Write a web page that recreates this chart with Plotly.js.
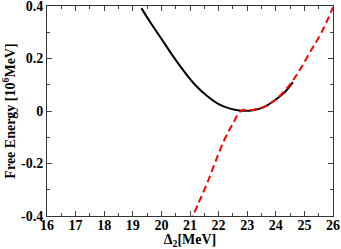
<!DOCTYPE html>
<html>
<head>
<meta charset="utf-8">
<script src="https://cdn.plot.ly/plotly-3.0.1.min.js"></script>
<style>html,body{margin:0;padding:0;background:#fff;}#chart{width:341px;height:249px;}</style>
</head>
<body>
<div id="chart"></div>
<script>
const blackX = [19.3, 19.6, 20.0, 20.4, 20.8, 21.2, 21.6, 22.0, 22.4, 22.8, 23.2, 23.6, 24.0, 24.3, 24.6];
const blackY = [0.392, 0.34, 0.275, 0.21, 0.15, 0.097, 0.057, 0.026, 0.009, 0.001, 0.003, 0.016, 0.044, 0.07, 0.11];
const redX = [21.0, 21.3, 21.6, 21.9, 22.2, 22.5, 22.8, 23.2, 23.6, 24.0, 24.4, 24.8, 25.2, 25.6, 26.0];
const redY = [-0.425, -0.35, -0.275, -0.19, -0.11, -0.048, 0.002, 0.004, 0.016, 0.044, 0.088, 0.15, 0.225, 0.30, 0.395];
const xTicks = [16, 17, 18, 19, 20, 21, 22, 23, 24, 25, 26];
const yTickVals = [-0.4, -0.2, 0, 0.2, 0.4];
const yTickText = ["-0.4", "-0.2", "0", "0.2", "0.4"];

const font = {family: "Liberation Serif, Times New Roman, serif", color: "#000", size: 14, weight: "bold"};

const traces = [
  {x: blackX, y: blackY, mode: "lines", line: {color: "#000", width: 2, shape: "spline"}, hoverinfo: "skip"},
  {x: redX, y: redY, mode: "lines", line: {color: "#ff0000", width: 2, dash: "7px,4px", shape: "spline"}, hoverinfo: "skip"}
];

const layout = {
  width: 341, height: 249,
  margin: {l: 47, r: 8, t: 6, b: 33, pad: 0},
  paper_bgcolor: "#fff", plot_bgcolor: "#fff",
  showlegend: false,
  font: font,
  xaxis: {
    range: [16, 26], tickvals: xTicks, ticktext: xTicks.map(String),
    ticks: "inside", ticklen: 5, tickwidth: 1, tickcolor: "#444",
    minor: {ticks: "inside", dtick: 0.5, ticklen: 3, tickcolor: "#444"},
    showline: true, linecolor: "#333", linewidth: 1, mirror: "allticks",
    showgrid: false, zeroline: false, tickfont: font,
    ticklabeloverflow: "allow", ticklabelstandoff: -4,
    title: {text: "Δ<sub>2</sub>[MeV]", font: font, standoff: 4}
  },
  yaxis: {
    range: [-0.4, 0.4], tickvals: yTickVals, ticktext: yTickText,
    ticks: "inside", ticklen: 5, tickwidth: 1, tickcolor: "#444",
    minor: {ticks: "inside", dtick: 0.1, ticklen: 3, tickcolor: "#444"},
    showline: true, linecolor: "#333", linewidth: 1, mirror: "allticks",
    showgrid: false, zeroline: false, tickfont: font,
    ticklabeloverflow: "allow",
    title: {text: "Free Energy [10<sup>6</sup>MeV]", font: font, standoff: 5}
  }
};

Plotly.newPlot("chart", traces, layout, {staticPlot: true, displayModeBar: false});
</script>
</body>
</html>
